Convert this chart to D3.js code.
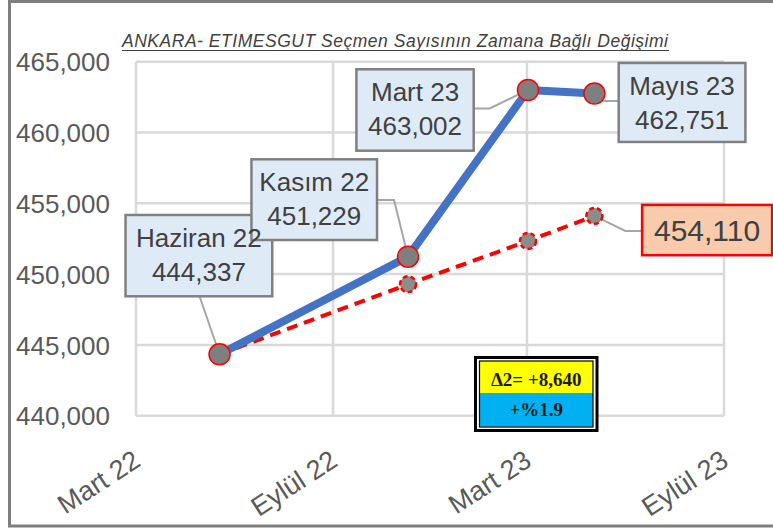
<!DOCTYPE html>
<html><head><meta charset="utf-8">
<script src="https://cdn.jsdelivr.net/npm/d3@7"></script>
<style>html,body{margin:0;padding:0;background:#fff;}svg{display:block;}</style>
</head><body>
<svg id="chart" width="773" height="529"></svg>
<script>
// ---- data ----
const pointDates = ["2022-05-18", "2022-11-10", "2023-03-02", "2023-05-03"];
const pointNames = ["Haziran 22", "Kasım 22", "Mart 23", "Mayıs 23"];
const actualValues = [444337, 451229, 463002, 462751];
const trendValues = [444337, 449280, 452340, 454110];
const yTickValues = [440000, 445000, 450000, 455000, 460000, 465000];
const xTickDates = ["2022-03-01", "2022-09-01", "2023-03-01", "2023-09-01"];
const xTickLabels = ["Mart 22", "Eylül 22", "Mart 23", "Eylül 23"];
const titleText = "ANKARA- ETIMESGUT Seçmen Sayısının Zamana Bağlı Değişimi";
const deltaText = "Δ2= +8,640";
const pctText = "+%1.9";

// ---- layout ----
const parse = d3.timeParse("%Y-%m-%d");
const svg = d3.select("#chart");
const FONT = "'Liberation Sans', Arial, sans-serif";
const plot = {left: 136, right: 724, top: 61.7, bottom: 415.7};

const x = d3.scaleTime()
  .domain([parse(xTickDates[0]), parse(xTickDates[xTickDates.length - 1])])
  .range([plot.left, plot.right]);
const y = d3.scaleLinear()
  .domain([yTickValues[0], yTickValues[yTickValues.length - 1]])
  .range([plot.bottom, plot.top]);

// outer frame
svg.append("rect").attr("x", 9.5).attr("y", 1.5).attr("width", 800).attr("height", 524.5)
  .attr("fill", "#fff").attr("stroke", "#7f7f7f").attr("stroke-width", 3);

// title
svg.append("text").attr("x", 395).attr("y", 47).attr("text-anchor", "middle")
  .attr("font-family", FONT).attr("font-style", "italic").attr("font-size", 17.5)
  .attr("fill", "#404040").attr("textLength", 546).attr("lengthAdjust", "spacing")
  .text(titleText);
svg.append("line").attr("x1", 122).attr("x2", 669).attr("y1", 50.5).attr("y2", 50.5)
  .attr("stroke", "#404040").attr("stroke-width", 1.2);

// gridlines
const grid = svg.append("g").attr("stroke", "#d9d9d9").attr("stroke-width", 2.5);
grid.selectAll("line.h").data(yTickValues).join("line").attr("class", "h")
  .attr("x1", plot.left).attr("x2", plot.right)
  .attr("y1", d => y(d)).attr("y2", d => y(d));
grid.selectAll("line.v").data(xTickDates).join("line").attr("class", "v")
  .attr("x1", d => x(parse(d))).attr("x2", d => x(parse(d)))
  .attr("y1", plot.top).attr("y2", plot.bottom);

// y axis
const yAxis = d3.axisLeft(y).tickValues(yTickValues).tickFormat(d3.format(",")).tickSize(0).tickPadding(0);
const yg = svg.append("g").attr("transform", "translate(110,0)").call(yAxis);
yg.select(".domain").remove();
yg.selectAll("text").attr("font-family", FONT).attr("font-size", 26).attr("fill", "#595959").attr("dy", "0.35em");

// x axis labels
const xAxis = d3.axisBottom(x).tickValues(xTickDates.map(parse))
  .tickFormat((d, i) => xTickLabels[i]).tickSize(0).tickPadding(0);
const xg = svg.append("g").call(xAxis);
xg.select(".domain").remove();
xg.selectAll(".tick").attr("transform", d => `translate(${x(d) + 1},457)`);
xg.selectAll("text").attr("font-family", FONT).attr("font-size", 27).attr("fill", "#595959")
  .attr("text-anchor", "end").attr("y", 0).attr("dy", "0.35em").attr("transform", "rotate(-33)");

// points
const pts = pointDates.map((d, i) => ({x: x(parse(d)), y: y(actualValues[i]), ty: y(trendValues[i])}));

// label boxes (offset of box from its point)
const labelBoxes = [
  {i: 0, dx: -94, dy: -139.3, w: 146.7, h: 81.3, lines: [pointNames[0], d3.format(",")(actualValues[0])], leader: [[-20, -58]]},
  {i: 1, dx: -156.6, dy: -97.4, w: 125.6, h: 80.7, lines: [pointNames[1], d3.format(",")(actualValues[1])], leader: [[-31, -56.7], [-14, -56.7]]},
  {i: 2, dx: -171.6, dy: -20.7, w: 117.3, h: 81.4, lines: [pointNames[2], d3.format(",")(actualValues[2])], leader: [[-54.3, 18.5], [-38.3, 18.5]]},
  {i: 3, dx: 24.3, dy: -30.6, w: 126.7, h: 79, lines: [pointNames[3], d3.format(",")(actualValues[3])], leader: [[24.3, 7.4], [9, 7.4]]}
];
const trendBox = {dx: 47.7, dy: -11, w: 130, h: 50.3, leader: [[47.7, 15], [31, 15]]};

// leader lines
const leaders = svg.append("g").attr("fill", "none").attr("stroke", "#a6a6a6").attr("stroke-width", 2);
labelBoxes.forEach(b => {
  const p = pts[b.i];
  const path = b.leader.map(o => [p.x + o[0], p.y + o[1]]).concat([[p.x, p.y]]);
  leaders.append("path").attr("d", d3.line()(path));
});
{
  const p = pts[3];
  const path = trendBox.leader.map(o => [p.x + o[0], p.ty + o[1]]).concat([[p.x, p.ty]]);
  leaders.append("path").attr("d", d3.line()(path));
}

// trend dashed line
svg.append("path").datum(pts).attr("fill", "none").attr("stroke", "#ff0000")
  .attr("stroke-width", 4).attr("stroke-dasharray", "11,7")
  .attr("d", d3.line().x(d => d.x).y(d => d.ty));
svg.append("g").selectAll("circle").data(pts.slice(1)).join("circle")
  .attr("cx", d => d.x).attr("cy", d => d.ty).attr("r", 8)
  .attr("fill", "#8c8c8c").attr("stroke", "#ff0000").attr("stroke-width", 2.5).attr("stroke-dasharray", "5,3");

// actual line
svg.append("path").datum(pts).attr("fill", "none").attr("stroke", "#4472c4")
  .attr("stroke-width", 8).attr("stroke-linejoin", "round")
  .attr("d", d3.line().x(d => d.x).y(d => d.y));
svg.append("g").selectAll("circle").data(pts).join("circle")
  .attr("cx", d => d.x).attr("cy", d => d.y).attr("r", 10.5)
  .attr("fill", "#7f7f7f").attr("stroke", "#ff0000").attr("stroke-width", 1.5);

// boxes
const boxes = svg.append("g");
labelBoxes.forEach(b => {
  const p = pts[b.i];
  boxes.append("rect").attr("x", p.x + b.dx).attr("y", p.y + b.dy).attr("width", b.w).attr("height", b.h)
    .attr("fill", "#deebf7").attr("stroke", "#808080").attr("stroke-width", 2.5);
});
const texts = svg.append("g").attr("font-family", FONT).attr("font-size", 26).attr("fill", "#404040").attr("text-anchor", "middle");
labelBoxes.forEach(b => {
  const p = pts[b.i];
  b.lines.forEach((t, k) => {
    texts.append("text").attr("x", p.x + b.dx + b.w / 2).attr("y", p.y + b.dy + (k === 0 ? 32 : 66)).text(t);
  });
});
{
  const p = pts[3];
  svg.append("rect").attr("x", p.x + trendBox.dx).attr("y", p.ty + trendBox.dy).attr("width", trendBox.w).attr("height", trendBox.h)
    .attr("fill", "#f8cbad").attr("stroke", "#ff0000").attr("stroke-width", 2.5);
  svg.append("text").attr("x", p.x + trendBox.dx + trendBox.w / 2).attr("y", p.ty + trendBox.dy + 36)
    .attr("font-family", FONT).attr("font-size", 30).attr("fill", "#404040").attr("text-anchor", "middle")
    .text(d3.format(",")(trendValues[3]));
}

// delta box
const db = {x: 475.5, y: 357.5, w: 121.5, h: 73};
const dg = svg.append("g");
dg.append("rect").attr("x", db.x).attr("y", db.y).attr("width", db.w).attr("height", db.h)
  .attr("fill", "#fff").attr("stroke", "#000").attr("stroke-width", 3);
dg.append("rect").attr("x", db.x + 4).attr("y", db.y + 3.5).attr("width", db.w - 8).attr("height", 32)
  .attr("fill", "#ffff00");
dg.append("rect").attr("x", db.x + 4).attr("y", db.y + 35.5).attr("width", db.w - 8).attr("height", 33.5)
  .attr("fill", "#00b0f0");
dg.append("rect").attr("x", db.x + 4).attr("y", db.y + 3.5).attr("width", db.w - 8).attr("height", db.h - 7)
  .attr("fill", "none").attr("stroke", "#000").attr("stroke-width", 1.2);
dg.append("text").attr("x", db.x + db.w / 2).attr("y", db.y + 28.5).attr("text-anchor", "middle")
  .attr("font-family", "'Liberation Serif', 'Times New Roman', serif").attr("font-weight", "bold")
  .attr("font-size", 19).attr("fill", "#1a1a1a").text(deltaText);
dg.append("text").attr("x", db.x + db.w / 2).attr("y", db.y + 58).attr("text-anchor", "middle")
  .attr("font-family", "'Liberation Serif', 'Times New Roman', serif").attr("font-weight", "bold")
  .attr("font-size", 19).attr("fill", "#1a1a1a").text(pctText);
</script>
</body></html>
